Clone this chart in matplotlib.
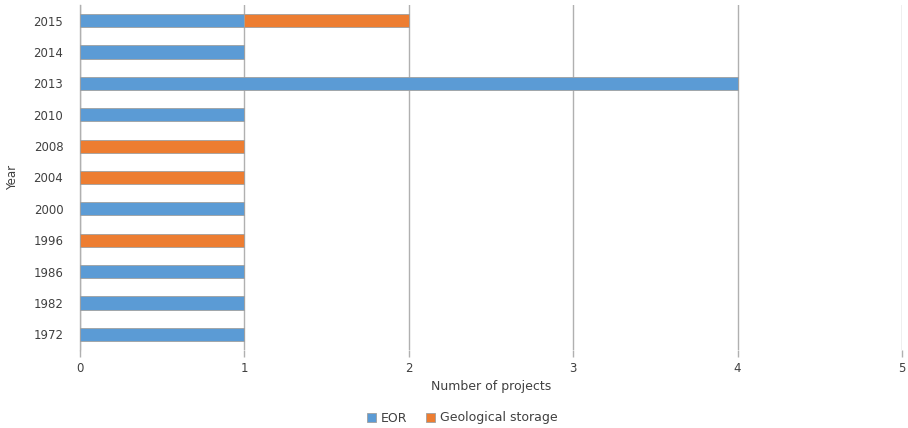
import matplotlib
matplotlib.use("Agg")
import matplotlib.pyplot as plt
import numpy as np

years = ["1972", "1982", "1986", "1996", "2000", "2004", "2008", "2010", "2013", "2014", "2015"]
eor = [1, 1, 1, 0, 1, 0, 0, 1, 4, 1, 1]
geo = [0, 0, 0, 1, 0, 1, 1, 0, 0, 0, 1]

plt.rcParams['font.family'] = ['DejaVu Sans']
fig = plt.figure(figsize=(9.08, 4.28), dpi=100)
ax = fig.add_axes([80/908, 1-350/428, 822/908, 345/428])

y = np.arange(len(years))
h = 0.42
ax.barh(y, eor, height=h, color="#5B9BD5", edgecolor="#A0A0A0", linewidth=0.6, label="EOR", zorder=3)
ax.barh(y, geo, left=eor, height=h, color="#ED7D31", edgecolor="#A0A0A0", linewidth=0.6, label="Geological storage", zorder=3)

ax.set_xlim(0, 5)
ax.set_ylim(-0.5, len(years) - 0.5)
ax.set_yticks(y)
ax.set_yticklabels(years)
ax.set_xticks([0, 1, 2, 3, 4, 5])
ax.xaxis.grid(True, color="#B0B0B0", linewidth=1.0, zorder=0)
ax.tick_params(axis='y', length=0, labelsize=8.5, labelcolor="#404040", pad=12)
ax.tick_params(axis='x', length=5, color="#B0B0B0", width=1.0, labelsize=8.5, labelcolor="#404040", pad=4)
for s in ["top", "right", "bottom"]:
    ax.spines[s].set_visible(False)
ax.spines["left"].set_color("#B0B0B0")
ax.spines["left"].set_linewidth(1.0)

ax.set_xlabel("Number of projects", fontsize=9, color="#404040", labelpad=3)
ax.set_ylabel("Year", fontsize=8.5, color="#404040", labelpad=10)

leg = fig.legend(loc="center", bbox_to_anchor=(462/908, 1-418/428), ncol=2, frameon=False,
                 fontsize=9, handlelength=0.7, handleheight=0.7, handletextpad=0.4, columnspacing=1.5)
for t in leg.get_texts():
    t.set_color("#404040")

fig.savefig("out.png", dpi=100)
